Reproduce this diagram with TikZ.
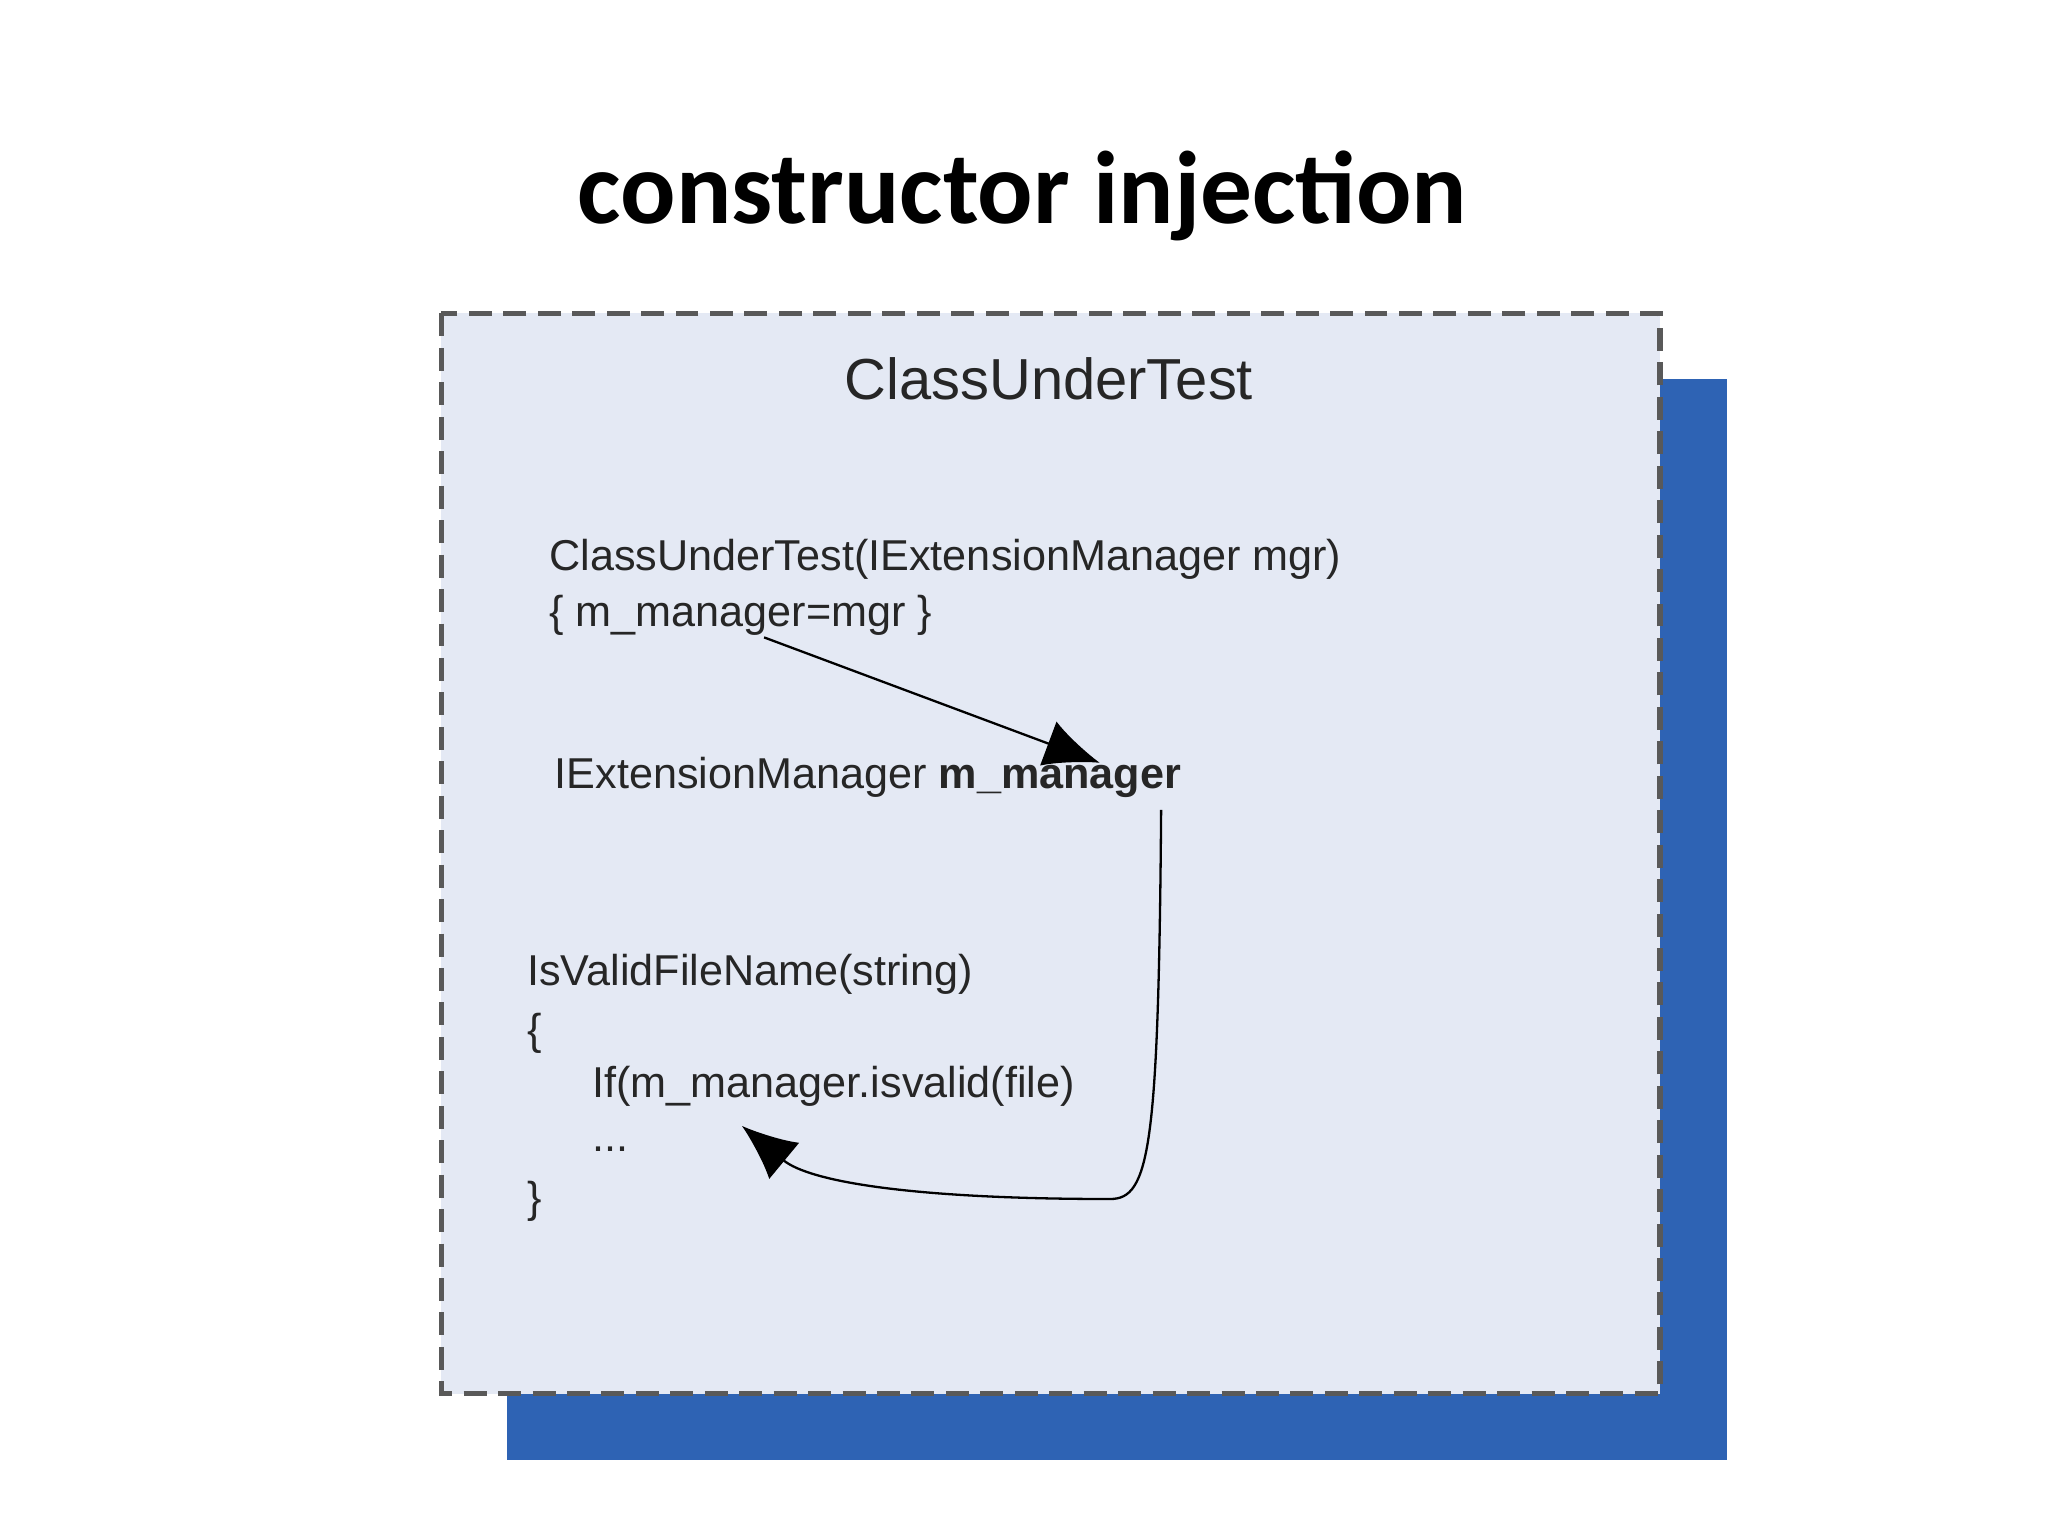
\documentclass[tikz,border=0pt]{standalone}
\usepackage{fontspec}
\setmainfont{Liberation Sans}
\newfontfamily\titlefont{Carlito}
\usetikzlibrary{arrows.meta}
\begin{document}
\begin{tikzpicture}[x=0.01cm,y=-0.01cm,
  code/.style={anchor=west,inner sep=0pt,font=\fontsize{9.4pt}{11pt}\selectfont,text=black!85},
  tip/.style={-{Latex[length=0.42cm,width=0.36cm]},line width=0.5pt}]
\useasboundingbox (0,0) rectangle (1568,1176);
\fill[white] (0,0) rectangle (1568,1176);
\node (title) at (783,150) {\titlefont\bfseries\fontsize{22.5pt}{26pt}\selectfont constructor injection};
\fill[fill={rgb,255:red,46;green,99;blue,180}] (388,290) rectangle (1322,1118);
\draw[dashed,line width=1.2pt,draw=black!65,dash pattern=on 5pt off 2.5pt,fill={rgb,255:red,228;green,233;blue,244}] (338,240) rectangle (1271,1067);
\node[font=\fontsize{12.6pt}{14pt}\selectfont,text=black!85] (cut) at (803,290) {ClassUnderTest};
\node[code] (c1) at (420,428) {ClassUnderTest(IExtensionManager mgr)};
\node[code] (c2) at (420,471) {\{ m\_manager=mgr \}};
\node[code] (f) at (424,595) {IExtensionManager \textbf{m\_manager}};
\node[code] (v1) at (403,746) {IsValidFileName(string)};
\node[code] (v2) at (403,791) {\{};
\node[code] (v3) at (453,832) {If(m\_manager.isvalid(file)};
\node[code] (v4) at (453,880) {...};
\node[code] (v5) at (403,920) {\}};
\coordinate (a1s) at (585,488);
\coordinate (a1e) at (842,584);
\coordinate (a2s) at (889,620);
\coordinate (a2e) at (568,862);
\draw[tip] (a1s) -- (a1e);
\draw[tip] (a2s) .. controls (887,880) and (880,918) .. (850,918) .. controls (700,918) and (620,905) .. (a2e);
\end{tikzpicture}
\end{document}
